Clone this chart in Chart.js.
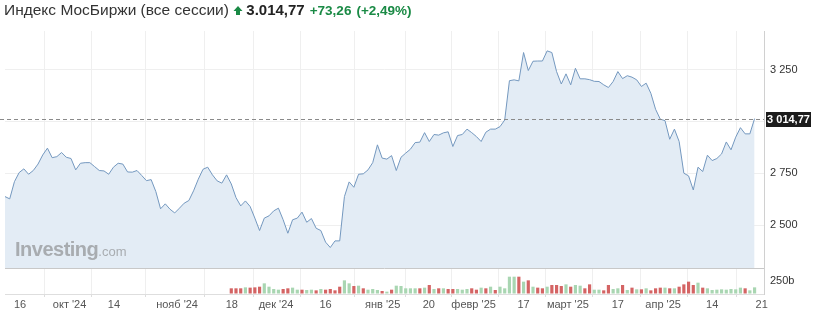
<!DOCTYPE html>
<html>
<head>
<meta charset="utf-8">
<script src="https://cdn.jsdelivr.net/npm/chart.js@4/dist/chart.umd.min.js"></script>
<style>
  body { margin: 0; background: #fff; font-family: "Liberation Sans", Arial, sans-serif; }
  #wrap { position: relative; width: 817px; height: 314px; }
  #title { position: absolute; left: 4px; top: 1px; white-space: nowrap; color: #333; }
  #title .name { font-size: 15.5px; }
  #title .last { font-size: 15px; font-weight: bold; color: #222; margin-left: 3px; }
  #title .chg { font-size: 13.5px; font-weight: bold; color: #1a8a45; margin-left: 5px; }
  #mark { position: absolute; left: 15px; top: 238px; color: #a8acb0; pointer-events: none; }
  #mark b { font-size: 20px; letter-spacing: -0.5px; }
  #mark span { font-size: 13px; }
</style>
</head>
<body>
<div id="wrap">
  <canvas id="myChart" width="817" height="314"></canvas>
  <div id="title"><span class="name">Индекс МосБиржи (все сессии)</span>
    <svg width="10" height="11" viewBox="0 0 10 11" style="vertical-align:-1px"><path d="M5 1 L9.5 6 L7 6 L7 10 L3 10 L3 6 L0.5 6 Z" fill="#1a8a45"/></svg><span class="last">3.014,77</span><span class="chg">+73,26</span><span class="chg">(+2,49%)</span></div>
  <div id="mark"><b>Investing</b><span>.com</span></div>
</div>
<script>
// price, one value per session
const prices = [
  2638, 2627, 2710, 2754, 2772, 2746, 2764, 2795, 2839, 2872,
  2826, 2831, 2851, 2828, 2822, 2767, 2799, 2802, 2802, 2783,
  2764, 2762, 2746, 2780, 2799, 2795, 2757, 2756, 2764, 2740,
  2715, 2720, 2662, 2579, 2603, 2577, 2559, 2582, 2606, 2619,
  2666, 2722, 2770, 2780, 2743, 2714, 2703, 2743, 2699, 2633,
  2593, 2617, 2590, 2534, 2474, 2534, 2545, 2569, 2582, 2526,
  2461, 2526, 2534, 2563, 2514, 2532, 2485, 2474, 2418, 2392,
  2424, 2424, 2638, 2709, 2683, 2746, 2748, 2767, 2802, 2888,
  2824, 2819, 2836, 2764, 2828, 2848, 2867, 2899, 2901, 2947,
  2904, 2938, 2935, 2946, 2951, 2880, 2933, 2938, 2964, 2947,
  2928, 2904, 2949, 2964, 2964, 2976, 3008, 3198, 3202, 3197,
  3334, 3247, 3292, 3293, 3293, 3342, 3334, 3242, 3182, 3231,
  3178, 3258, 3207, 3207, 3203, 3195, 3194, 3178, 3165, 3194,
  3242, 3208, 3222, 3215, 3202, 3170, 3186, 3137, 3060, 3012,
  3005, 2915, 2964, 2904, 2751, 2738, 2670, 2780, 2759, 2838,
  2812, 2822, 2844, 2902, 2864, 2925, 2971, 2941, 2941, 3014.77
];

// volume (billions), starts at session volStart
const volStart = 48;
const volumes = [
  112, 112, 112, 131, 125, 131, 144, 210, 144, 98,
  85, 98, 112, 125, 85, 85, 79, 85, 72, 98,
  85, 98, 72, 144, 269, 210, 157, 164, 112, 85,
  98, 79, 59, 46, 85, 164, 157, 112, 112, 112,
  112, 125, 177, 98, 112, 112, 98, 98, 98, 85,
  98, 112, 85, 125, 112, 144,
  79, 144, 112, 341, 341, 341, 243, 269, 144, 125,
  112, 144, 177, 177, 157, 190, 144, 177, 164, 112,
  190, 85, 85, 72, 177, 98, 112, 177, 79, 125,
  92, 92, 112, 72, 112, 125, 125, 112, 112, 144,
  190, 243, 177, 223, 125, 112, 79, 85, 92, 85,
  98, 92, 125, 112, 72, 131
];
const volColors = [
  "r","r","r","g","r","r","r","g","g","g",
  "g","r","r","g","g","r","g","g","r","g",
  "r","r","r","r","g","g","r","g","r","g",
  "g","g","r","g","r","g","g","g","g","g",
  "r","g","r","g","r","g","r","r","g","g",
  "g","r","r","g","r","g",
  "r","g","g","g","g","r","g","r","g","r",
  "r","g","r","r","r","g","r","g","g","r",
  "r","g","g","r","r","g","g","r","g","r",
  "g","r","g","r","r","r","g","r","g","r",
  "r","r","r","g","r","g","g","g","g","g",
  "g","g","g","r","g","g"
];

// x-axis labels and their session positions
const tickLabels = ["16", "окт '24", "14", "нояб '24", "18", "дек '24", "16", "янв '25",
  "20", "февр '25", "17", "март '25", "17", "апр '25", "14", "21"];
const tickPos = [3.2, 13.7, 23.1, 36.5, 48.1, 57.5, 68, 80.1, 89.9, 99.4, 110, 119.4, 130, 139.6, 150, 160.5];

const priceTicks = [2500, 2750, 3000, 3250];
const volTicks = [0, 250, 512];

function fmtNum(v) {
  return String(v).replace(/\B(?=(\d{3})+(?!\d))/g, " ");
}

const lastPrice = prices[prices.length - 1];

const lastLabel = {
  id: "lastLabel",
  afterDatasetsDraw(chart) {
    const ctx = chart.ctx;
    const area = chart.chartArea;
    const y = Math.round(chart.scales.y.getPixelForValue(lastPrice)) + 0.5;
    ctx.save();
    ctx.strokeStyle = "#8a8a8a";
    ctx.lineWidth = 1;
    ctx.setLineDash([4, 3]);
    ctx.beginPath();
    ctx.moveTo(0, y);
    ctx.lineTo(area.right, y);
    ctx.stroke();
    ctx.setLineDash([]);
    ctx.fillStyle = "#1c1c1c";
    ctx.fillRect(area.right + 2, y - 7.5, 45, 15);
    ctx.fillStyle = "#fff";
    ctx.font = "bold 11px 'Liberation Sans', Arial";
    ctx.textBaseline = "middle";
    ctx.textAlign = "center";
    ctx.fillText("3 014,77", area.right + 24.5, y + 0.5);
    ctx.restore();
  }
};

const data = {
  datasets: [
    {
      type: "line",
      data: prices.map((v, i) => ({ x: i, y: v })),
      yAxisID: "y",
      borderColor: "#7498bf",
      borderWidth: 1,
      backgroundColor: "#e3ecf5",
      fill: "start",
      pointRadius: 0,
      tension: 0,
    },
    {
      type: "bar",
      data: volumes.map((v, i) => ({ x: volStart + i, y: v })),
      yAxisID: "yv",
      backgroundColor: volColors.map(c => (c === "r" ? "#d46464" : "#a9d6b2")),
      barPercentage: 0.75,
      categoryPercentage: 0.9,
    },
  ],
};

const config = {
  type: "line",
  data,
  plugins: [lastLabel],
  options: {
    responsive: false,
    animation: false,
    layout: { padding: { top: 31, left: 5, right: 0, bottom: 0 } },
    plugins: { legend: { display: false }, tooltip: { enabled: false } },
    scales: {
      x: {
        type: "linear",
        min: 0,
        max: 161,
        offset: false,
        afterBuildTicks: s => { s.ticks = tickPos.map(v => ({ value: v })); },
        afterFit: s => { s.height = 20; },
        ticks: {
          autoSkip: false,
          maxRotation: 0,
          padding: 1,
          color: "#555",
          font: { size: 11, family: "'Liberation Sans', Arial" },
          callback: (v, i) => tickLabels[i],
        },
        grid: { color: "#efefef", tickLength: 3, tickColor: "#ddd" },
        border: { display: false },
      },
      y: {
        position: "right",
        stack: "panes",
        stackWeight: 237,
        min: 2293,
        max: 3438,
        afterBuildTicks: s => { s.ticks = priceTicks.map(v => ({ value: v })); },
        afterFit: s => { s.width = 53; },
        ticks: {
          autoSkip: false,
          padding: 6,
          color: "#333",
          font: { size: 11, family: "'Liberation Sans', Arial" },
          callback: v => fmtNum(v),
        },
        grid: { color: "#efefef", drawTicks: false },
        border: { color: "#d0d0d0" },
      },
      yv: {
        position: "right",
        stack: "panes",
        stackWeight: 26,
        min: 0,
        max: 512,
        afterBuildTicks: s => { s.ticks = volTicks.map(v => ({ value: v })); },
        afterFit: s => { s.width = 53; },
        ticks: {
          autoSkip: false,
          padding: 6,
          color: "#333",
          font: { size: 11, family: "'Liberation Sans', Arial" },
          callback: v => (v === 250 ? "250b" : ""),
        },
        grid: {
          drawTicks: false,
          color: c => (c.tick.value === 0 ? "#dedede" : c.tick.value === 512 ? "#c8c8c8" : "rgba(0,0,0,0)"),
        },
        border: { color: "#d0d0d0" },
      },
    },
  },
};

new Chart(document.getElementById("myChart"), config);
</script>
</body>
</html>
